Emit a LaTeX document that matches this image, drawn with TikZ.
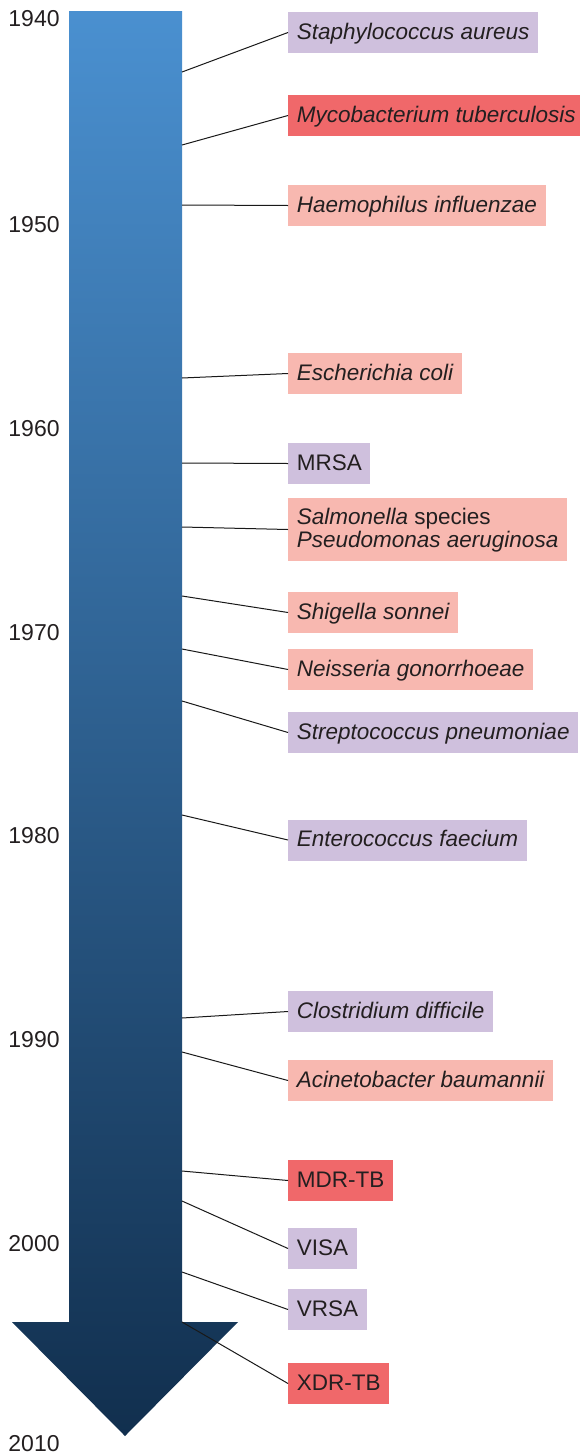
\documentclass[tikz,border=0pt]{standalone}
\usepackage{fontspec}
\setmainfont{Liberation Sans}
\definecolor{arrtop}{RGB}{74,144,208}
\definecolor{arrbot}{RGB}{17,47,78}
\definecolor{gposfill}{RGB}{207,192,221}
\definecolor{gnegfill}{RGB}{248,184,176}
\definecolor{mtbfill}{RGB}{240,104,106}
\definecolor{txtdark}{RGB}{35,31,32}
\begin{document}
\begin{tikzpicture}[
    x=0.5pt, y=-0.5pt,
    box/.style={
        anchor=west, inner xsep=4.25pt, inner ysep=0pt,
        minimum height=20.5pt, text height=0.78em, text depth=0.11em,
        text=txtdark, font=\fontsize{11.25}{11.5}\selectfont\itshape
    },
    gpos/.style={box, fill=gposfill},
    gneg/.style={box, fill=gnegfill},
    mtb/.style={box, fill=mtbfill},
    yr/.style={anchor=east, inner sep=0pt, text=txtdark,
        font=\fontsize{11.5}{12}\selectfont},
    lead/.style={draw=black!90, line width=0.5pt}
]
\useasboundingbox (0,0) rectangle (579,1456);

%% ── Šípka (časová os) ───────────────────────────────────────────
\shade[top color=arrtop, bottom color=arrbot]
    (69,11) -- (182,11) -- (182,1322) -- (238,1322) -- (125,1436)
    -- (12,1322) -- (69,1322) -- cycle;

%% ── Roky ─────────────────────────────────────────────────────────
\node[yr] (y1940) at (60,19)   {1940};
\node[yr] (y1950) at (60,225)  {1950};
\node[yr] (y1960) at (60,429)  {1960};
\node[yr] (y1970) at (60,633)  {1970};
\node[yr] (y1980) at (60,836)  {1980};
\node[yr] (y1990) at (60,1040) {1990};
\node[yr] (y2000) at (60,1244) {2000};
\node[yr] (y2010) at (60,1444) {2010};

%% ── Body na osi ──────────────────────────────────────────────────
\coordinate (t1)  at (182,72);
\coordinate (t2)  at (182,145);
\coordinate (t3)  at (182,205);
\coordinate (t4)  at (182,378);
\coordinate (t5)  at (182,463);
\coordinate (t6)  at (182,527);
\coordinate (t7)  at (182,596);
\coordinate (t8)  at (182,649);
\coordinate (t9)  at (182,701);
\coordinate (t10) at (182,815);
\coordinate (t11) at (182,1018);
\coordinate (t12) at (182,1052);
\coordinate (t13) at (182,1171);
\coordinate (t14) at (182,1201);
\coordinate (t15) at (182,1272);
\coordinate (t16) at (182,1322);

%% ── Patogény ─────────────────────────────────────────────────────
\node[gpos] (staph) at (288,32.5)   {Staphylococcus aureus};
\node[mtb]  (myco)  at (288,115.5)  {Mycobacterium tuberculosis};
\node[gneg] (haem)  at (288,205.5)  {Haemophilus influenzae};
\node[gneg] (ecoli) at (288,373.5)  {Escherichia coli};
\node[gpos] (mrsa)  at (288,463.5)  {\upshape MRSA};
\node[gneg, text height=, text depth=, align=left,
      minimum height=31.5pt] (salm) at (288,529.5)
    {\rule{0pt}{9pt}Salmonella {\upshape species}\\Pseudomonas aeruginosa};
\node[gneg] (shig)  at (288,612.5)  {Shigella sonnei};
\node[gneg] (neis)  at (288,669.5)  {Neisseria gonorrhoeae};
\node[gpos] (strep) at (288,732.5)  {Streptococcus pneumoniae};
\node[gpos] (ente)  at (288,840)    {Enterococcus faecium};
\node[gpos] (clos)  at (288,1011.5) {Clostridium difficile};
\node[gneg] (acin)  at (288,1080.5) {Acinetobacter baumannii};
\node[mtb]  (mdr)   at (288,1180.5) {\upshape MDR-TB};
\node[gpos] (visa)  at (288,1248.5) {\upshape VISA};
\node[gpos] (vrsa)  at (288,1309.5) {\upshape VRSA};
\node[mtb]  (xdr)   at (288,1383.5) {\upshape XDR-TB};

%% ── Spojnice ─────────────────────────────────────────────────────
\draw[lead] (t1)  -- (staph.west);
\draw[lead] (t2)  -- (myco.west);
\draw[lead] (t3)  -- (haem.west);
\draw[lead] (t4)  -- (ecoli.west);
\draw[lead] (t5)  -- (mrsa.west);
\draw[lead] (t6)  -- (salm.west);
\draw[lead] (t7)  -- (shig.west);
\draw[lead] (t8)  -- (neis.west);
\draw[lead] (t9)  -- (strep.west);
\draw[lead] (t10) -- (ente.west);
\draw[lead] (t11) -- (clos.west);
\draw[lead] (t12) -- (acin.west);
\draw[lead] (t13) -- (mdr.west);
\draw[lead] (t14) -- (visa.west);
\draw[lead] (t15) -- (vrsa.west);
\draw[lead] (t16) -- (xdr.west);

\end{tikzpicture}
\end{document}
